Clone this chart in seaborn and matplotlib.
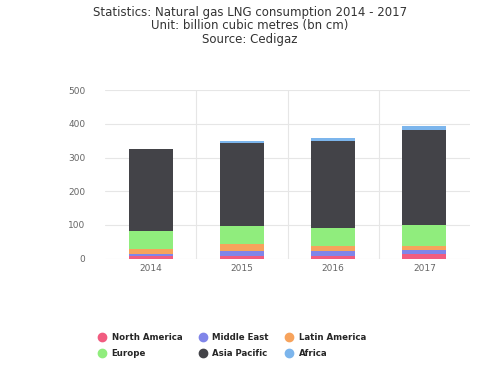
import pandas as pd
import seaborn as sns
import matplotlib.pyplot as plt
from matplotlib.lines import Line2D

years = ["2014", "2015", "2016", "2017"]
regions = ["North America", "Middle East", "Latin America", "Europe", "Asia Pacific", "Africa"]
north_america = [9, 9, 9, 13]
middle_east = [6, 13, 14, 13]
latin_america = [15, 21, 14, 13]
europe = [51, 53, 55, 60]
asia_pacific = [243, 248, 256, 282]
africa = [1, 4, 11, 12]
colors = ["#f15c80", "#8085e9", "#f7a35c", "#90ed7d", "#434348", "#7cb5ec"]

df = pd.DataFrame({
    "North America": north_america,
    "Middle East": middle_east,
    "Latin America": latin_america,
    "Europe": europe,
    "Asia Pacific": asia_pacific,
    "Africa": africa,
}, index=years)
stacked = df.cumsum(axis=1)

sns.set_style("whitegrid")
plt.rcParams["font.family"] = ["DejaVu Sans"]

fig = plt.figure(figsize=(5, 3.75), dpi=100)
ax = fig.add_axes([0.21, 0.31, 0.73, 0.45])

# draw from the top of the stack down so each layer shows
for name, col in reversed(list(zip(regions, colors))):
    sns.barplot(x=years, y=stacked[name].values, color=col, width=0.48,
                saturation=1, ax=ax, linewidth=0)

ax.set_ylim(0, 500)
ax.set_yticks([0, 100, 200, 300, 400, 500])
ax.set_xlim(-0.5, 3.5)
ax.set_xticks([0.5, 1.5, 2.5], minor=True)
ax.grid(True, which="major", axis="y", color="#e6e6e6", linewidth=0.8)
ax.grid(True, which="minor", axis="x", color="#e6e6e6", linewidth=0.8)
ax.grid(False, which="major", axis="x")
ax.tick_params(axis="both", which="both", length=0, labelsize=6.5, colors="#666666")
ax.tick_params(axis="y", pad=14)
for s in ax.spines.values():
    s.set_visible(False)
ax.set_xlabel("")
ax.set_ylabel("")

fig.suptitle("Statistics: Natural gas LNG consumption 2014 - 2017\n"
             "Unit: billion cubic metres (bn cm)\nSource: Cedigaz",
             y=0.985, fontsize=8.5, color="#333333", linespacing=1.05)

# legend fills column by column, so reorder to read row by row
order = [0, 3, 1, 4, 2, 5]
handles = [Line2D([0], [0], marker="o", linestyle="", markersize=6,
                  markerfacecolor=colors[i], markeredgecolor=colors[i]) for i in order]
labels = [regions[i] for i in order]
fig.legend(handles, labels, loc="lower left", bbox_to_anchor=(0.18, 0.025),
           ncol=3, frameon=False, handletextpad=0.6, handlelength=1.0,
           columnspacing=1.9, labelspacing=0.85,
           prop={"weight": "semibold", "size": 6.2})

fig.savefig("out.png", dpi=100)
